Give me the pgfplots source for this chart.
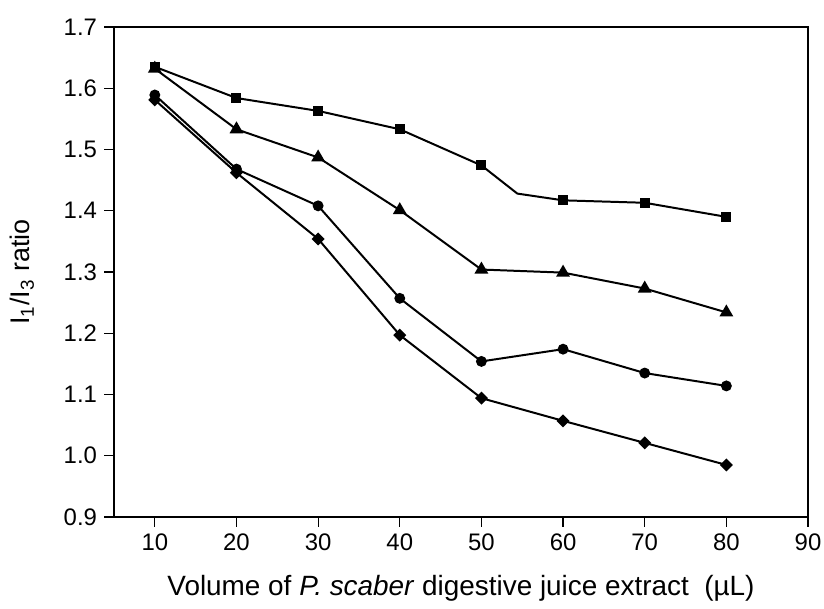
\documentclass[border=0pt]{standalone}
\usepackage{fontspec}
\setmainfont{Liberation Sans}
\usepackage{pgfplots}
\pgfplotsset{compat=1.18}
\usetikzlibrary{calc}
\begin{document}
\begin{tikzpicture}
\begin{axis}[
scale only axis,
width=347bp,
height=245bp,
xmin=5, xmax=90,
ymin=0.9, ymax=1.7,
xtick={10,20,...,90},
ytick={0.9,1.0,...,1.7},
/pgf/number format/assume math mode=true,
yticklabel style={/pgf/number format/.cd, fixed, fixed zerofill, precision=1},
tick label style={font=\fontsize{12}{14}\selectfont},
xlabel style={font=\fontsize{14}{16}\selectfont},
ylabel style={font=\fontsize{13.5}{16}\selectfont},
xtick pos=bottom,
ytick pos=left,
tick align=outside,
major tick length=5bp,
axis line style={line width=0.6pt},
every tick/.style={black, line width=0.6pt},
xlabel={Volume of \textit{P. scaber} digestive juice extract\ \ (µL)},
ylabel={I\textsubscript{1}/I\textsubscript{3} ratio},
xlabel style={at={(axis description cs:0.5,-0.1449)}, anchor=center},
ylabel style={at={(axis description cs:-0.1326,0.5)}, anchor=center},
every axis plot/.append style={black, line width=1pt},
]
% squares (kink between 50 and 60 as drawn)
\addplot[mark=square*, mark size=2bp, mark indices={1,2,3,4,5,7,8,9}] coordinates {
(10,1.635) (20,1.584) (30,1.563) (40,1.533) (50,1.474) (54.4,1.428) (60,1.417) (70,1.413) (80,1.390)
};
% triangles
\addplot[mark=triangle*, mark size=3bp] coordinates {
(10,1.632) (20,1.533) (30,1.487) (40,1.401) (50,1.304) (60,1.299) (70,1.273) (80,1.234)
};
% circles
\addplot[mark=*, mark size=2.2bp] coordinates {
(10,1.589) (20,1.468) (30,1.408) (40,1.257) (50,1.154) (60,1.174) (70,1.135) (80,1.114)
};
% diamonds
\addplot[mark=square*, mark size=1.8bp, mark options={rotate=45}] coordinates {
(10,1.581) (20,1.462) (30,1.354) (40,1.197) (50,1.094) (60,1.057) (70,1.021) (80,0.985)
};
\end{axis}
\pgfresetboundingbox
\path[use as bounding box] (current axis.south west) ++(-57bp,-46bp) rectangle ($(current axis.north east)+(8bp,13.5bp)$);
\end{tikzpicture}
\end{document}
